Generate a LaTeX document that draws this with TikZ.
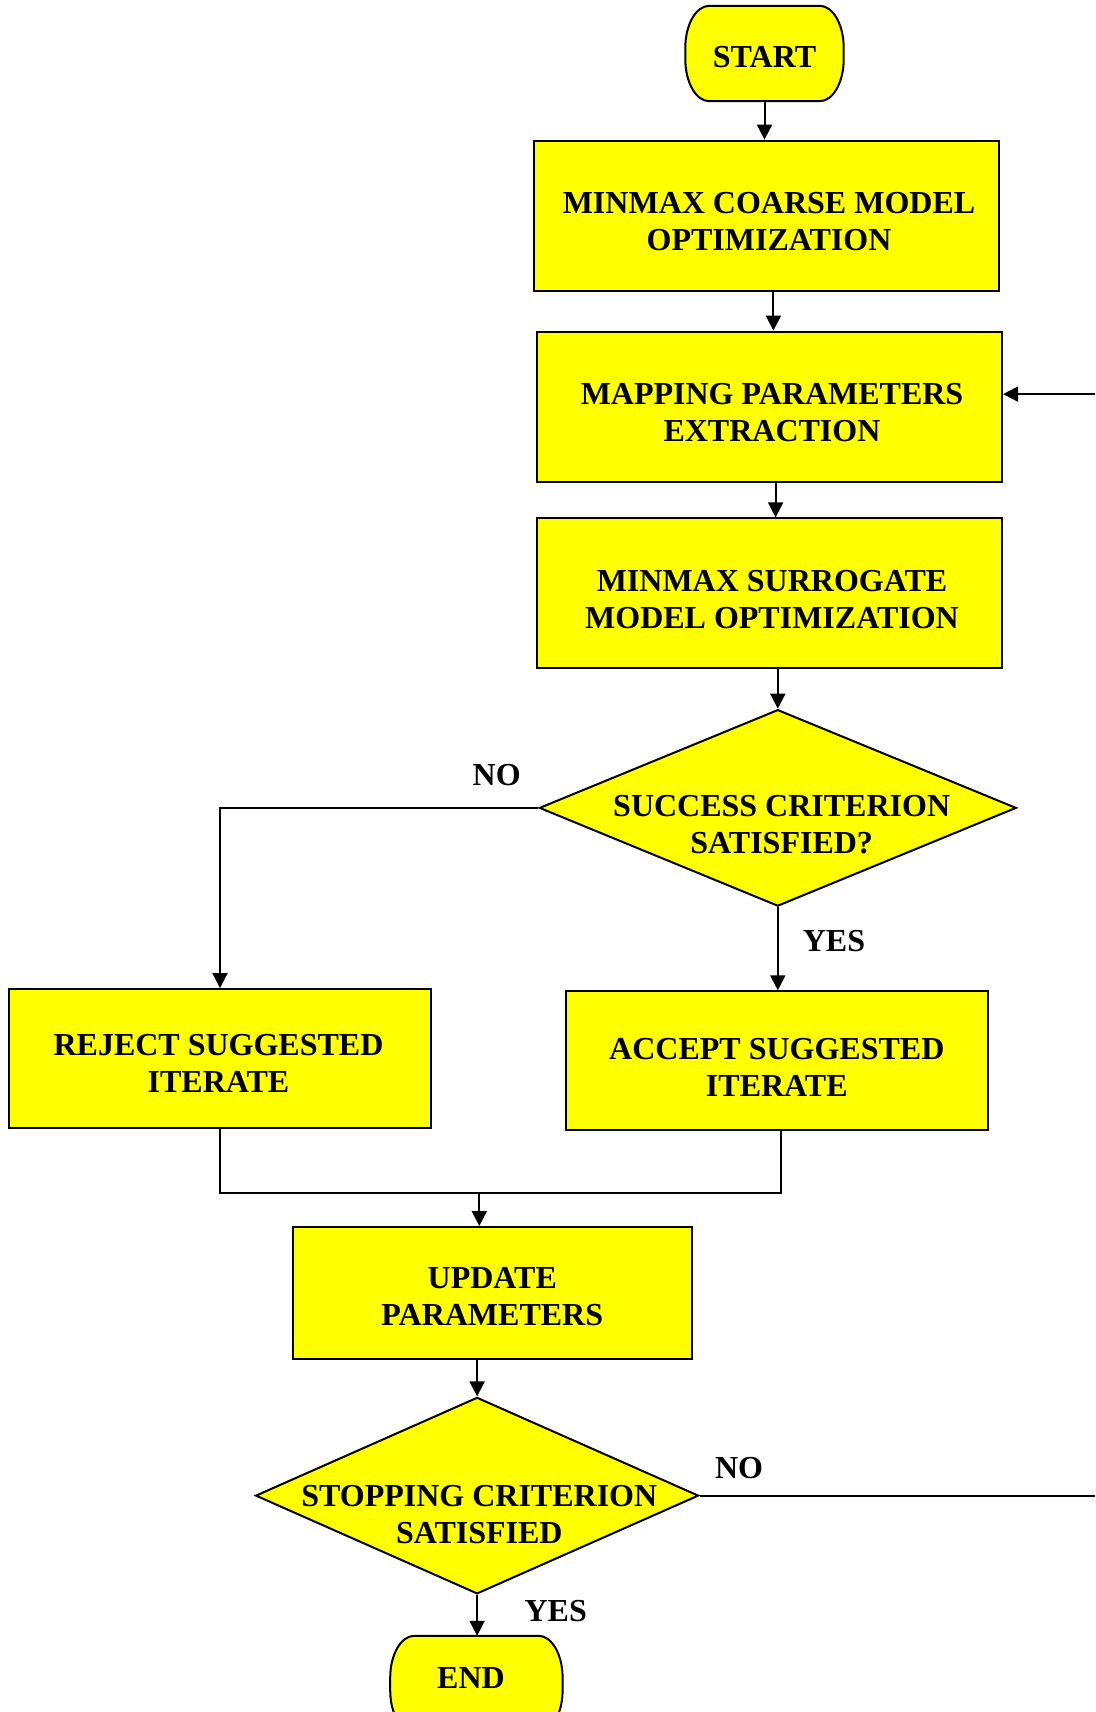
\documentclass[tikz,border=0pt]{standalone}
\usepackage{fontspec}
\setmainfont{Liberation Serif}
\usetikzlibrary{arrows.meta,shapes.geometric,calc}
\definecolor{boxyellow}{RGB}{255,255,0}
\begin{document}
\begin{tikzpicture}[x=1pt,y=-1pt,
  font=\fontsize{32}{37}\selectfont\bfseries,
  flow/.style={line width=2pt,-{Triangle[width=15pt,length=15pt]}},
  plain/.style={line width=2pt},
  txt/.style={align=center,inner sep=0pt},
  shapebase/.style={draw,line width=2pt,fill=boxyellow,inner sep=0pt},
  procbox/.style={shapebase,rectangle},
  termframe/.style={rectangle,inner sep=0pt},
  termline/.style={draw,line width=2pt,fill=boxyellow},
  decbox/.style={shapebase,diamond}]
\useasboundingbox (0,0) rectangle (1095,1712);
\clip (0,0) rectangle (1095,1712);

% terminal outline: flat top and bottom, elliptic corners
\newcommand\terminaloutline[1]{%
  \path[termline] ([xshift=24pt]#1.north west) -- ([xshift=-24pt]#1.north east)
    arc[start angle=90,end angle=0,x radius=24pt,y radius=42pt]
    -- ([yshift=42pt]#1.south east)
    arc[start angle=0,end angle=-90,x radius=24pt,y radius=42pt]
    -- ([xshift=24pt]#1.south west)
    arc[start angle=270,end angle=180,x radius=24pt,y radius=42pt]
    -- ([yshift=-42pt]#1.north west)
    arc[start angle=180,end angle=90,x radius=24pt,y radius=42pt] -- cycle;}

% process steps (text set a little below each shape's centre)
\node[termframe,minimum width=158pt,minimum height=95pt] (start) at (764.5,53.5) {};
\terminaloutline{start}
\node[txt] (startt) at (764.5,57) {START};
\node[procbox,minimum width=465pt,minimum height=150pt] (b1) at (766.4,215.6) {};
\node[txt] (b1t) at (769,222) {MINMAX COARSE MODEL\\OPTIMIZATION};
\node[procbox,minimum width=465pt,minimum height=150pt] (b2) at (769.6,406.6) {};
\node[txt] (b2t) at (772,413) {MAPPING PARAMETERS\\EXTRACTION};
\node[procbox,minimum width=465pt,minimum height=150pt] (b3) at (769.6,593.4) {};
\node[txt] (b3t) at (772,600) {MINMAX SURROGATE\\MODEL OPTIMIZATION};
\node[decbox,minimum width=477pt,minimum height=196.5pt] (d1) at (777.8,807.9) {};
\node[txt] (d1t) at (781.7,825) {SUCCESS CRITERION\\SATISFIED?};
\node[procbox,minimum width=421.4pt,minimum height=138.7pt] (rej) at (220,1058.4) {};
\node[txt] (rejt) at (218.5,1063) {REJECT SUGGESTED\\ITERATE};
\node[procbox,minimum width=422.5pt,minimum height=138.6pt] (acc) at (776.8,1060.6) {};
\node[txt] (acct) at (776.8,1067) {ACCEPT SUGGESTED\\ITERATE};
\node[procbox,minimum width=399.5pt,minimum height=132pt] (upd) at (492.3,1293) {};
\node[txt] (updt) at (492.3,1296.5) {UPDATE\\PARAMETERS};
\node[decbox,minimum width=443pt,minimum height=196.5pt] (d2) at (477.1,1495.6) {};
\node[txt] (d2t) at (479.3,1515) {STOPPING CRITERION\\SATISFIED};
\node[termframe,minimum width=172pt,minimum height=96pt] (end) at (476.4,1684) {};
\terminaloutline{end}
\node[txt] (endt) at (471,1678) {END};

% branch labels
\node[txt] (no1) at (496.7,775) {NO};
\node[txt] (yes1) at (834,941) {YES};
\node[txt] (no2) at (739,1468) {NO};
\node[txt] (yes2) at (555.7,1611.4) {YES};

% connectors
\draw[flow] (start.south) -- (start.south |- b1.north);
\draw[flow] ([xshift=7pt]b1.south) -- ([xshift=7pt]b1.south |- b2.north);
\draw[flow] ([xshift=6pt]b2.south) -- ([xshift=6pt]b2.south |- b3.north);
\draw[flow] (b3.south -| d1.north) -- (d1.north);
\draw[flow] (d1.south) -- (d1.south |- acc.north);
\draw[flow] (d1.west) -| (rej.north);
\coordinate (mg) at (479.3,1193.2);
\draw[plain] (rej.south) |- ([xshift=4pt]acc.south |- mg) -- ([xshift=4pt]acc.south);
\draw[flow] (mg) -- (mg |- upd.north);
\draw[flow] (upd.south -| d2.north) -- (d2.north);
\draw[flow] (d2.south) -- (d2.south |- end.north);

% return loop
\coordinate (loopout) at (1095,1497.8);
\coordinate (loopin) at (1095,394.1);
\draw[plain] (d2.east) -- (d2.east -| loopout);
\draw[flow] (loopin) -- (loopin -| b2.east);
\end{tikzpicture}
\end{document}
